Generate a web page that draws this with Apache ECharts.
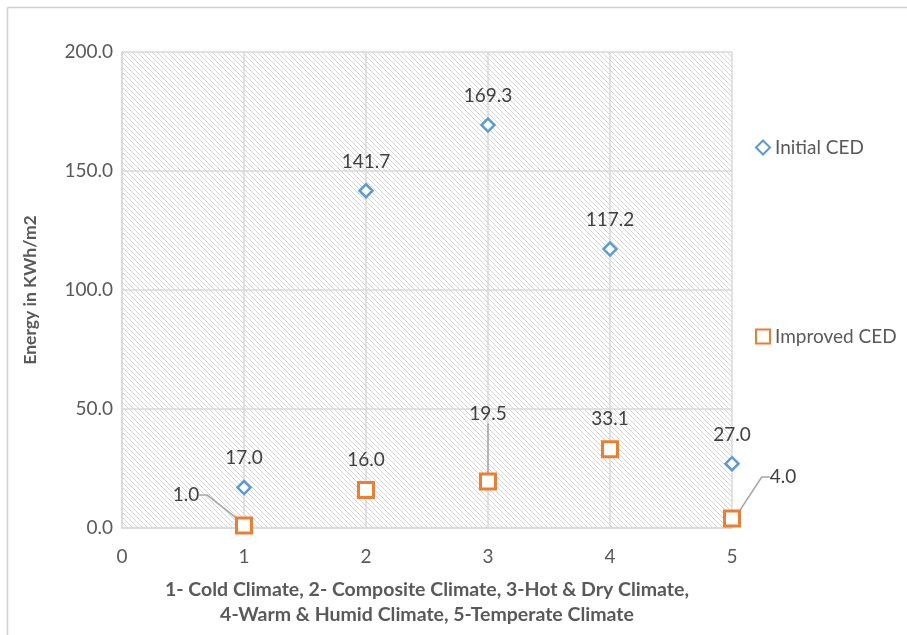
<!DOCTYPE html>
<html>
<head>
<meta charset="utf-8">
<script src="https://cdn.jsdelivr.net/npm/echarts@6/dist/echarts.min.js"></script>
<style>
html,body{margin:0;padding:0;background:#fff;}
#chart{width:907px;height:635px;}
</style>
</head>
<body>
<div id="chart"></div>
<script>
const xValues = [1, 2, 3, 4, 5];
const initialCED = [17.0, 141.7, 169.3, 117.2, 27.0];
const improvedCED = [1.0, 16.0, 19.5, 33.1, 4.0];
const seriesNames = ['Initial CED', 'Improved CED'];
const yTicks = [0, 50, 100, 150, 200];
const xTicks = [0, 1, 2, 3, 4, 5];
const xTitle = '1- Cold Climate, 2- Composite Climate, 3-Hot & Dry Climate,\n4-Warm & Humid Climate, 5-Temperate Climate';
const yTitle = 'Energy in KWh/m2';
// label offsets (dx, dy) for improved series labels that use leader lines
const improvedLabelShift = {0: [-58, 0], 2: [0, -37], 4: [51, -11]};

const FONT = 'Lato, "Liberation Sans", sans-serif';

const pc = document.createElement('canvas');
pc.width = 5; pc.height = 5;
const pctx = pc.getContext('2d');
pctx.fillStyle = '#ffffff';
pctx.fillRect(0, 0, 5, 5);
pctx.strokeStyle = '#d4d4d4';
pctx.lineWidth = 1;
pctx.beginPath();
pctx.moveTo(-1, -1); pctx.lineTo(6, 6);
pctx.moveTo(-1, 4); pctx.lineTo(1, 6);
pctx.moveTo(4, -1); pctx.lineTo(6, 1);
pctx.stroke();

const chart = echarts.init(document.getElementById('chart'));
chart.setOption({
  animation: false,
  backgroundColor: '#ffffff',
  textStyle: {fontFamily: FONT},
  graphic: [
    {type: 'line', shape: {x1: 7.5, y1: 7.5, x2: 907, y2: 7.5}, style: {stroke: '#d0d0d0', lineWidth: 1.5}},
    {type: 'line', shape: {x1: 7.5, y1: 7.5, x2: 7.5, y2: 635}, style: {stroke: '#d0d0d0', lineWidth: 1.5}}
  ],
  grid: {
    left: 122, right: 175, top: 52, bottom: 107,
    show: true,
    backgroundColor: {image: pc, repeat: 'repeat'},
    borderWidth: 0
  },
  legend: {
    orient: 'vertical',
    left: 750,
    top: 133,
    itemGap: 170,
    itemWidth: 14,
    itemHeight: 14,
    textStyle: {fontSize: 19, color: '#595959', fontFamily: FONT},
    data: [
      {name: seriesNames[0], icon: 'diamond'},
      {name: seriesNames[1], icon: 'rect'}
    ]
  },
  xAxis: {
    type: 'value',
    min: xTicks[0], max: xTicks[xTicks.length - 1], interval: 1,
    name: xTitle,
    nameLocation: 'middle',
    nameGap: 49,
    nameTextStyle: {fontSize: 19.5, fontWeight: 'bold', color: '#595959', lineHeight: 25, fontFamily: FONT},
    axisLine: {show: true, lineStyle: {color: '#d9d9d9', width: 1.5}},
    axisTick: {show: false},
    axisLabel: {fontSize: 19, color: '#595959', margin: 19, fontFamily: FONT},
    splitLine: {show: true, lineStyle: {color: '#d9d9d9', width: 1.5}}
  },
  yAxis: {
    type: 'value',
    min: yTicks[0], max: yTicks[yTicks.length - 1], interval: 50,
    name: yTitle,
    nameLocation: 'middle',
    nameGap: 83,
    nameTextStyle: {fontSize: 17.5, fontWeight: 'bold', color: '#595959', fontFamily: FONT},
    axisLine: {show: true, lineStyle: {color: '#d9d9d9', width: 1.5}},
    axisTick: {show: false},
    axisLabel: {fontSize: 19, color: '#595959', margin: 9, fontFamily: FONT, formatter: v => v.toFixed(1)},
    splitLine: {show: true, lineStyle: {color: '#d9d9d9', width: 1.5}}
  },
  series: [
    {
      name: seriesNames[0],
      type: 'scatter',
      symbol: 'diamond',
      symbolSize: 13,
      itemStyle: {color: '#ffffff', borderColor: '#5b9bd5', borderWidth: 2.5, opacity: 1},
      label: {show: true, position: 'top', distance: 12, fontSize: 19, color: '#404040', fontFamily: FONT, formatter: p => p.value[1].toFixed(1)},
      data: xValues.map((x, i) => [x, initialCED[i]]),
      z: 3
    },
    {
      name: seriesNames[1],
      type: 'scatter',
      symbol: 'rect',
      symbolSize: 15,
      itemStyle: {color: '#ffffff', borderColor: '#ed7d31', borderWidth: 3, opacity: 1},
      label: {show: true, position: 'top', distance: 12, fontSize: 19, color: '#404040', fontFamily: FONT, formatter: p => p.value[1].toFixed(1)},
      labelLine: {show: true, length2: 8, lineStyle: {color: '#a6a6a6', width: 1.5}},
      labelLayout: function (params) {
        const s = improvedLabelShift[params.dataIndex];
        if (s) return {dx: s[0], dy: s[1]};
        return {};
      },
      data: xValues.map((x, i) => ({
        value: [x, improvedCED[i]],
        labelLine: {show: improvedLabelShift[i] !== undefined}
      })),
      z: 4
    }
  ]
});
</script>
</body>
</html>
